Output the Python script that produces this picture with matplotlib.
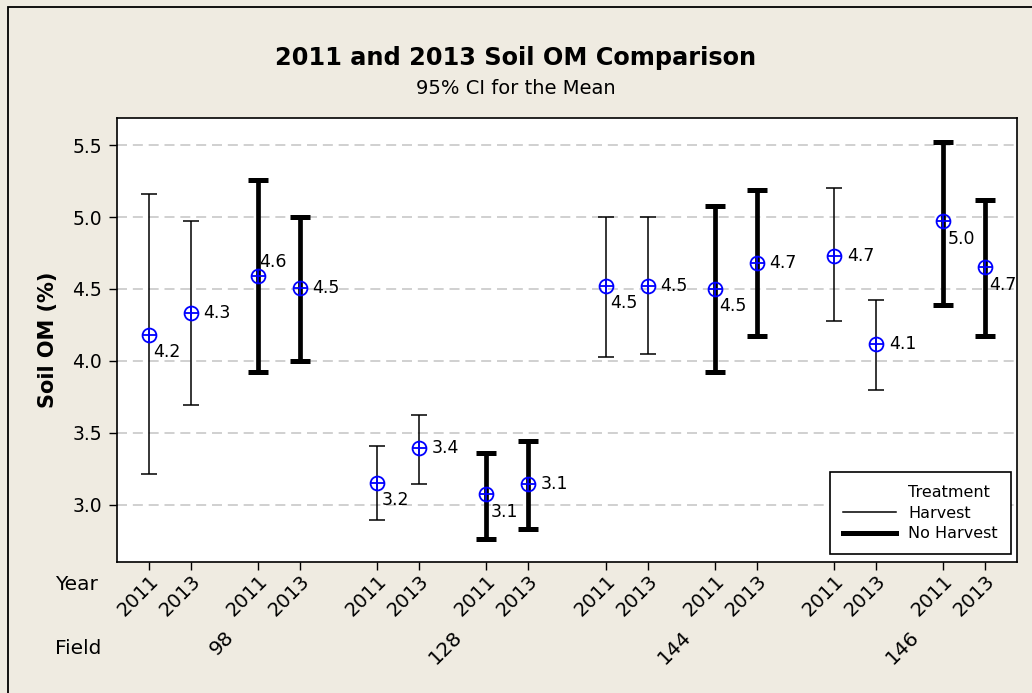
import numpy as np
import matplotlib.pyplot as plt
from matplotlib.lines import Line2D
from matplotlib.patches import Rectangle
import matplotlib.transforms as mtransforms

# data, order: field -> treatment -> year
fields = ['98', '128', '144', '146']
treatments = ['Harvest', 'No Harvest']
years = ['2011', '2013']

means = [4.18, 4.33, 4.59, 4.51,
         3.15, 3.39, 3.07, 3.14,
         4.52, 4.52, 4.50, 4.68,
         4.73, 4.12, 4.97, 4.65]
lower = [3.21, 3.69, 3.92, 4.00,
         2.89, 3.14, 2.76, 2.83,
         4.03, 4.05, 3.92, 4.17,
         4.28, 3.80, 4.39, 4.17]
upper = [5.16, 4.97, 5.26, 5.00,
         3.41, 3.62, 3.36, 3.44,
         5.00, 5.00, 5.08, 5.19,
         5.20, 4.42, 5.52, 5.12]
value_labels = ['4.2', '4.3', '4.6', '4.5',
                '3.2', '3.4', '3.1', '3.1',
                '4.5', '4.5', '4.5', '4.7',
                '4.7', '4.1', '5.0', '4.7']
# where Minitab put each label: r = right, br = below right, tr = above right
label_side = ['br', 'r', 'tr', 'r',
              'br', 'r', 'br', 'r',
              'br', 'r', 'br', 'r',
              'r', 'r', 'br', 'br']

BG = '#EFEBE1'
plt.rcParams['font.family'] = ['DejaVu Sans']

fig = plt.figure(figsize=(10.32, 6.93), dpi=100, facecolor=BG)
fig.patches.append(Rectangle((8 / 1032, -0.1), 1.2, 1.1 - 7 / 693, transform=fig.transFigure,
                             fill=False, edgecolor='black', linewidth=1.3, zorder=0))
ax = fig.add_axes([117 / 1032, (693 - 562) / 693, 900 / 1032, 444 / 693])
ax.set_facecolor('white')

year_step, treat_step, field_step = 1.0, 2.59, 5.44
pos, tick_labels = [], []
for fi in range(len(fields)):
    for ti in range(len(treatments)):
        for yi in range(len(years)):
            pos.append(fi * field_step + ti * treat_step + yi * year_step)
            tick_labels.append(years[yi])
pos = np.array(pos)
means = np.array(means)
lower = np.array(lower)
upper = np.array(upper)

for i in range(len(pos)):
    ti = (i // 2) % 2
    if ti == 0:
        lw, cap, ct = 1.1, 6, 1.1
    else:
        lw, cap, ct = 3.4, 7.5, 3.6
    ax.errorbar(pos[i], means[i],
                yerr=[[means[i] - lower[i]], [upper[i] - means[i]]],
                fmt='none', ecolor='black', elinewidth=lw, capsize=cap, capthick=ct, zorder=3)

ax.plot(pos, means, 'o', ms=10, mfc='none', mec='#0000FF', mew=1.3, zorder=4)
ax.plot(pos, means, '+', ms=10, mec='#0000FF', mew=1.3, zorder=4)

offsets = {'r': ((9, 0), 'left', 'center'),
           'br': ((3, -6), 'left', 'top'),
           'tr': ((1, 4), 'left', 'bottom')}
for i in range(len(pos)):
    off, ha, va = offsets[label_side[i]]
    ax.annotate(value_labels[i], (pos[i], means[i]), xytext=off, textcoords='offset points',
                ha=ha, va=va, fontsize=12.5, zorder=5)

ax.set_xlim(-0.76, 20.67)
ax.set_ylim(2.60, 5.69)
ax.set_yticks([3.0, 3.5, 4.0, 4.5, 5.0, 5.5])
ax.set_yticklabels(['3.0', '3.5', '4.0', '4.5', '5.0', '5.5'], fontsize=13.5)
ax.yaxis.grid(True, color='#C8C8C8', linestyle=(0, (6, 3.5)), linewidth=1.2)
ax.set_axisbelow(True)

ax.set_xticks(pos)
ax.set_xticklabels(tick_labels, rotation=45, ha='right', va='top', rotation_mode='anchor', fontsize=14)
ax.tick_params(axis='both', direction='out', length=6, width=1, color='black')
ax.tick_params(axis='x', pad=1)
ax.tick_params(axis='y', pad=5)
for s in ax.spines.values():
    s.set_color('black')
    s.set_linewidth(1.2)

ax.set_ylabel('Soil OM (%)', fontsize=15, fontweight='bold', labelpad=10)

# field labels under the year labels
trans = mtransforms.blended_transform_factory(ax.transData, ax.transAxes)
for fi, f in enumerate(fields):
    center = fi * field_step + (treat_step + year_step) / 2
    ax.text(center, -0.147, f, transform=trans, rotation=45, ha='right', va='top',
            rotation_mode='anchor', fontsize=14.5)

fig.text(55 / 1032, 1 - 585 / 693, 'Year', fontsize=14.5, ha='left', va='center')
fig.text(55 / 1032, 1 - 648 / 693, 'Field', fontsize=14.5, ha='left', va='center')

fig.text(0.5, 1 - 58 / 693, '2011 and 2013 Soil OM Comparison', fontsize=17.3, fontweight='bold',
         ha='center', va='center')
fig.text(0.5, 1 - 88 / 693, '95% CI for the Mean', fontsize=14, ha='center', va='center')

handles = [Line2D([], [], color='none'),
           Line2D([], [], color='black', lw=1.1),
           Line2D([], [], color='black', lw=3.6)]
leg = ax.legend(handles, ['Treatment', 'Harvest', 'No Harvest'], loc='lower right',
                bbox_to_anchor=(0.993, 0.018), borderaxespad=0, fancybox=False,
                edgecolor='black', framealpha=1, fontsize=11.5, handlelength=3.3,
                labelspacing=0.35, borderpad=0.8)
leg.get_frame().set_linewidth(1.2)

fig.savefig('out.png', dpi=100, facecolor=BG)
